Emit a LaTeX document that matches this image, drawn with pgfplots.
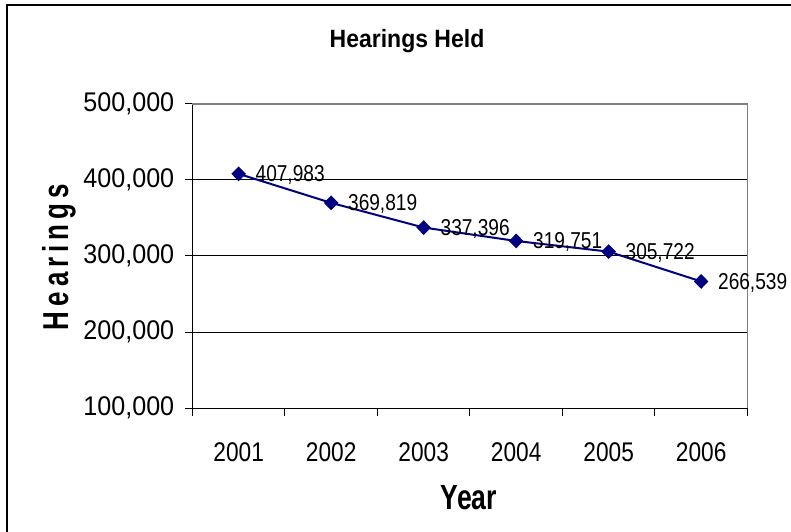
\documentclass[border=0pt]{standalone}
\usepackage{pgfplots}
\pgfplotsset{compat=1.18}
\usepackage{fontspec}
\setmainfont{Liberation Sans}
% narrowed faces, the chart's text is condensed
\newfontfamily\fY[FakeStretch=0.93]{Liberation Sans}
\newfontfamily\fX[FakeStretch=0.84]{Liberation Sans}
\newfontfamily\fD[FakeStretch=0.83]{Liberation Sans}
\newfontfamily\fT[FakeStretch=0.92]{Liberation Sans}
\newfontfamily\fYear[FakeStretch=0.76]{Liberation Sans}
\newfontfamily\fH[FakeStretch=0.72,LetterSpace=14]{Liberation Sans}
\definecolor{navy}{RGB}{0,0,128}

\begin{document}
\begin{tikzpicture}[x=1pt,y=1pt]
\useasboundingbox (0,0) rectangle (791,531);
\draw[line width=2pt] (7,-10) -- (7,526) -- (800,526);

\node[font=\fT\bfseries\fontsize{25}{28}\selectfont, anchor=base] at (407,483) {Hearings Held};
\node[font=\fYear\bfseries\fontsize{35}{38}\selectfont, anchor=base] at (469,22) {Year};
\node[font=\fH\bfseries\fontsize{36}{40}\selectfont, rotate=90, anchor=base] at (68,274) {Hearings};

\begin{axis}[%
	at={(208,161.5)}, anchor=south west,
	scale only axis, width=555pt, height=304.3pt,
	xmin=0.5, xmax=6.5,
	ymin=100000, ymax=500000,
	axis x line*=bottom, axis y line*=left,
	axis line style={black, line width=1pt},
	xtick={1,2,3,4,5,6},
	xticklabels={2001,2002,2003,2004,2005,2006},
	minor xtick={0.5,1.5,2.5,3.5,4.5,5.5,6.5},
	ytick={100000,200000,300000,400000,500000},
	tick align=outside,
	tick style={black, line width=1pt},
	major tick length=7pt, minor tick length=8pt,
	major x tick style={draw=none},
	ymajorgrids, grid style={black, line width=1pt},
	scaled y ticks=false,
	yticklabel style={font=\fY\fontsize{27}{30}\selectfont, inner sep=0pt, xshift=-11pt,
		/pgf/number format/.cd, 1000 sep={,}, fixed, assume math mode=true},
	xticklabel style={font=\fX\fontsize{27}{30}\selectfont, inner sep=0pt, yshift=-27pt},
	clip=false]

\addplot[color=navy, line width=2pt, mark=diamond*, mark size=6pt,
	mark options={xscale=1.3, solid},
	nodes near coords={\fD\fontsize{23}{25}\selectfont\pgfmathprintnumber[1000 sep={,},fixed,assume math mode=true]{\pgfplotspointmeta}},
	every node near coord/.append style={anchor=west, inner sep=0pt, xshift=16pt, yshift=-1pt, text=black}]
coordinates {
(1,407983) (2,369819) (3,337396) (4,319751) (5,305722) (6,266539)
};

% gray top and right frame of the plot area
\draw[gray, line width=1.5pt] (rel axis cs:0,1) -- (rel axis cs:1,1) -- (rel axis cs:1,0);
\end{axis}
\end{tikzpicture}
\end{document}
